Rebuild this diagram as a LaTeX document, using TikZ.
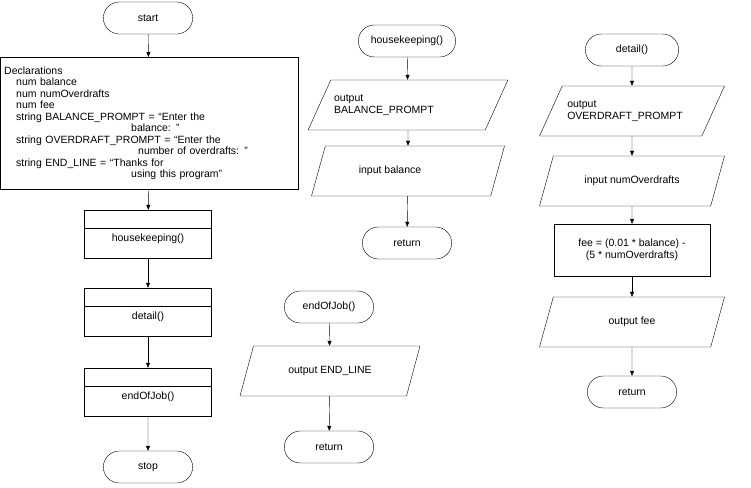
\documentclass[tikz,border=0pt]{standalone}
\usepackage{fontspec}
\setmainfont{Liberation Sans}
\usetikzlibrary{arrows.meta,shapes.geometric,shapes.misc,positioning}
\tikzset{
    term/.style = {draw, rounded rectangle, minimum width=96pt, minimum height=32pt},
    proc/.style = {draw, rectangle},
    subproc/.style = {draw, rectangle, minimum width=127pt, minimum height=48pt,
      path picture={\draw ([yshift=-18pt]path picture bounding box.north west)
        -- ([yshift=-18pt]path picture bounding box.north east);}},
    io/.style = {draw, trapezium, trapezium left angle=50, trapezium right angle=130,
      trapezium stretches body, minimum height=50pt, align=left},
    flow/.style = {-{Triangle[length=5pt,width=4pt]}}
  }
\begin{document}
\begin{tikzpicture}[x=1pt,y=-1pt,font=\fontsize{10.5}{11.5}\selectfont]
\useasboundingbox (0,0) rectangle (751,487);

% main program
\node[term] at (148,18) (start) {start};
\node[proc, minimum width=298pt, minimum height=132pt, align=left,
      anchor=north west, text width=290pt] at (0,57) (decl)
  {Declarations\\
   \hspace*{12pt}num balance\\
   \hspace*{12pt}num numOverdrafts\\
   \hspace*{12pt}num fee\\
   \hspace*{12pt}string BALANCE\_PROMPT = “Enter the\\
   \hspace*{127pt}balance: ”\\
   \hspace*{12pt}string OVERDRAFT\_PROMPT = “Enter the\\
   \hspace*{134pt}number of overdrafts: ”\\
   \hspace*{12pt}string END\_LINE = “Thanks for\\
   \hspace*{127pt}using this program”\\[4pt]};
\node[subproc] at (148,234) (hk) {\raisebox{-18pt}{housekeeping()}};
\node[subproc] at (148,312) (det) {\raisebox{-18pt}{detail()}};
\node[subproc] at (148,392) (eoj) {\raisebox{-18pt}{endOfJob()}};
\node[term] at (148,467) (stop) {stop};
\draw[flow] (start) -- (decl);
\draw[flow] (decl) -- (hk);
\draw[flow] (hk) -- (det);
\draw[flow] (det) -- (eoj);
\draw[flow] (eoj) -- (stop);

% housekeeping
\node[term, minimum width=104pt] at (407,41) (hkstart) {housekeeping()};
\node[io, minimum width=193pt] at (408,105) (outbal)
  {output\\BALANCE\_PROMPT\hspace*{48pt}};
\node[io, minimum width=193pt] at (408,171) (inbal)
  {input balance\hspace*{36pt}};
\node[term] at (407,243) (hkret) {return};
\draw[flow] (hkstart) -- (outbal);
\draw[flow] (outbal) -- (inbal);
\draw[flow] (inbal) -- (hkret);

% detail
\node[term, minimum width=100pt] at (632,50) (detstart) {detail()};
\node[io, minimum width=185pt] at (632,111) (outod)
  {output\\OVERDRAFT\_PROMPT\hspace*{14pt}};
\node[io, minimum width=185pt] at (632,181) (inod) {input numOverdrafts};
\node[proc, minimum width=156pt, minimum height=52pt, align=center]
  at (632,250) (fee) {fee = (0.01 * balance) -\\(5 * numOverdrafts)};
\node[io, minimum width=185pt] at (632,322) (outfee) {output fee};
\node[term] at (632,392) (detret) {return};
\draw[flow] (detstart) -- (outod);
\draw[flow] (outod) -- (inod);
\draw[flow] (inod) -- (fee);
\draw[flow] (fee) -- (outfee);
\draw[flow] (outfee) -- (detret);

% endOfJob
\node[term] at (329,307) (eojstart) {endOfJob()};
\node[io, minimum width=180pt] at (330,371) (outend) {output END\_LINE};
\node[term] at (329,447) (eojret) {return};
\draw[flow] (eojstart) -- (outend);
\draw[flow] (outend) -- (eojret);
\end{tikzpicture}
\end{document}
